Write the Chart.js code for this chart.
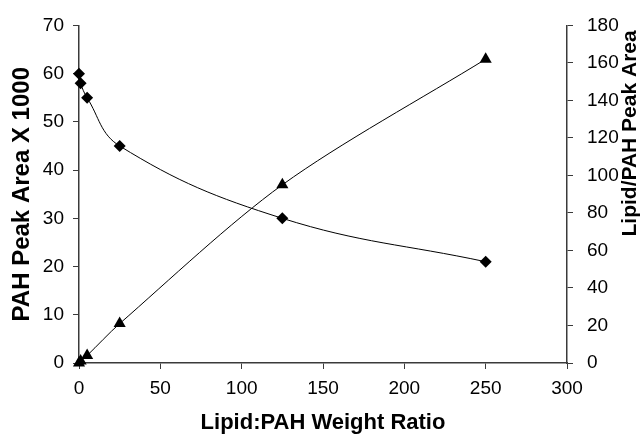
<!DOCTYPE html>
<html>
<head>
<meta charset="utf-8">
<script src="https://cdn.jsdelivr.net/npm/chart.js@4"></script>
<style>
  body { margin: 0; background: #fff; }
  #chartBox { width: 642px; height: 439px; }
</style>
</head>
<body>
<div id="chartBox"><canvas id="ratioChart" width="642" height="439"></canvas></div>
<script>
// weight ratio lipid:PAH (x axis)
const ratios = [0, 1, 5, 25, 125, 250];
// PAH peak area x 1000 (left axis, diamonds)
const pahArea = [60, 58, 55, 45, 30, 21];
// lipid/PAH peak area (right axis, triangles)
const lipidPahArea = [0, 1, 4, 21, 95, 162];

const xTicks = [0, 50, 100, 150, 200, 250, 300];
const leftTicks = [0, 10, 20, 30, 40, 50, 60, 70];
const rightTicks = [0, 20, 40, 60, 80, 100, 120, 140, 160, 180];

const xTitle = 'Lipid:PAH Weight Ratio';
const leftTitle = 'PAH Peak Area X 1000';
const rightTitle = 'Lipid/PAH Peak Area';

const fontFamily = '"Liberation Sans", Arial, sans-serif';
const axisColor = '#3a3a3a';

function toPoints(xs, ys) {
    return xs.map((x, i) => ({ x: x, y: ys[i] }));
}

// the right axis title reads bottom-to-top in the original, so draw it by hand
const rightTitlePlugin = {
    id: 'rightTitlePlugin',
    afterDraw(chart) {
        const ctx = chart.ctx;
        const area = chart.chartArea;
        ctx.save();
        ctx.translate(chart.width - 12, area.top + 108);
        ctx.rotate(-Math.PI / 2);
        ctx.font = 'bold 21px ' + fontFamily;
        ctx.fillStyle = '#000';
        ctx.textAlign = 'center';
        ctx.textBaseline = 'middle';
        ctx.fillText(rightTitle, 0, 0);
        ctx.restore();
    }
};

const ctx = document.getElementById('ratioChart').getContext('2d');
new Chart(ctx, {
    type: 'line',
    data: {
        datasets: [{
            label: leftTitle,
            data: toPoints(ratios, pahArea),
            yAxisID: 'y',
            borderColor: '#000',
            backgroundColor: '#000',
            borderWidth: 1,
            tension: 0.4,
            pointStyle: 'rectRot',
            pointRadius: 6,
            pointBorderWidth: 0,
            clip: false
        }, {
            label: rightTitle,
            data: toPoints(ratios, lipidPahArea),
            yAxisID: 'y1',
            borderColor: '#000',
            backgroundColor: '#000',
            borderWidth: 1,
            tension: 0.3,
            pointStyle: 'triangle',
            pointRadius: 7,
            pointBorderWidth: 0,
            clip: false
        }]
    },
    options: {
        responsive: false,
        animation: false,
        layout: { padding: { top: 23, left: 0, right: 0, bottom: 0 } },
        plugins: {
            legend: { display: false },
            tooltip: { enabled: false }
        },
        scales: {
            x: {
                type: 'linear',
                min: 0,
                max: 300,
                afterBuildTicks: s => { s.ticks = xTicks.map(v => ({ value: v })); },
                afterFit: s => { s.height = 76; },
                border: { color: axisColor, width: 1.5 },
                grid: { drawOnChartArea: false, tickLength: 6, color: axisColor },
                ticks: { color: '#000', padding: 8, font: { family: fontFamily, size: 19 } },
                title: {
                    display: true,
                    text: xTitle,
                    color: '#000',
                    padding: { top: 0, bottom: 3 },
                    font: { family: fontFamily, size: 22, weight: 'bold' }
                }
            },
            y: {
                position: 'left',
                min: 0,
                max: 70,
                afterBuildTicks: s => { s.ticks = leftTicks.map(v => ({ value: v })); },
                afterFit: s => { s.width = 79; },
                border: { color: axisColor, width: 1.5 },
                grid: { drawOnChartArea: false, tickLength: 6, color: axisColor },
                ticks: { color: '#000', padding: 9, font: { family: fontFamily, size: 19 } },
                title: {
                    display: true,
                    text: leftTitle,
                    color: '#000',
                    padding: { top: 8, bottom: 0 },
                    font: { family: fontFamily, size: 24, weight: 'bold' }
                }
            },
            y1: {
                position: 'right',
                min: 0,
                max: 180,
                afterBuildTicks: s => { s.ticks = rightTicks.map(v => ({ value: v })); },
                afterFit: s => { s.width = 75; },
                border: { color: axisColor, width: 1.5 },
                grid: { drawOnChartArea: false, tickLength: 6, color: axisColor },
                ticks: { color: '#000', padding: 14, font: { family: fontFamily, size: 19 } }
            }
        }
    },
    plugins: [rightTitlePlugin]
});
</script>
</body>
</html>
